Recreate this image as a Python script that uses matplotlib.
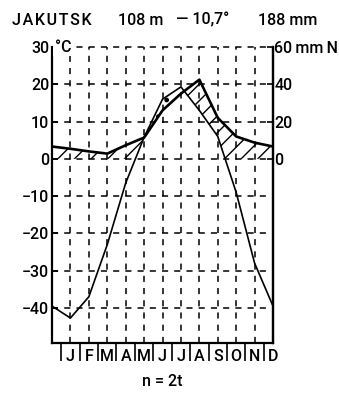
import numpy as np
import matplotlib.pyplot as plt
from matplotlib.ticker import FixedLocator

plt.rcParams['font.family'] = ['Roboto', 'DejaVu Sans']
plt.rcParams['font.weight'] = 'medium'
plt.rcParams['hatch.linewidth'] = 1.0

months = ['J', 'F', 'M', 'A', 'M', 'J', 'J', 'A', 'S', 'O', 'N', 'D']
# monthly mean temperature (°C) and precipitation (mm), Jakutsk
temp = [-42.7, -37.0, -23.0, -6.5, 5.8, 16.0, 19.3, 13.0, 6.0, -9.0, -28.0, -39.5]
prec = [5.4, 4.0, 2.8, 7.3, 11.4, 26.0, 35.0, 42.5, 22.0, 12.0, 8.7, 6.6]

# diagram starts with December on the left edge
x = np.arange(0, 13)
t = np.array([temp[-1]] + temp)
p = np.array([prec[-1]] + prec) / 2.0   # n = 2t

fig = plt.figure(figsize=(3.39, 3.93), dpi=100)
ax = fig.add_axes([0.1534, 0.1272, 0.652, 0.7532])
ax.set_xlim(0, 12)
ax.set_ylim(-49.4, 30)

# fills on a fine grid
xf = np.linspace(0, 12, 1201)
tf = np.interp(xf, x, t)
pf = np.interp(xf, x, p)
low = np.maximum(tf, 0)
ax.fill_between(xf, low, pf, where=pf > low, facecolor='none', edgecolor='black',
                hatch='//', linewidth=0)
ax.fill_between(xf, pf, tf, where=tf > pf, facecolor='none', edgecolor='black',
                hatch='.', linewidth=0)

ax.plot(x, t, color='black', lw=1.2)
ax.plot(x, p, color='black', lw=1.9)

# grid
for gx in range(1, 12):
    ax.axvline(gx, color='black', lw=1.1, ls=(0, (4, 4)), zorder=0)
for gy in range(-40, 31, 10):
    ax.axhline(gy, color='black', lw=1.1, ls=(0, (4, 4)), zorder=0, clip_on=False)

ax.spines['top'].set_visible(False)
for s in ['left', 'right', 'bottom']:
    ax.spines[s].set_linewidth(1.6)

fs = 11.5
ax.set_yticks(range(-40, 31, 10))
ax.set_yticklabels(['\u221240', '\u221230', '\u221220', '\u221210', '0', '10', '20', '30'])
ax.tick_params(axis='y', direction='in', length=4, width=1.2, labelsize=fs, pad=2)

ax.set_xticks(range(1, 13))
ax.set_xticklabels(months)
ax.xaxis.set_minor_locator(FixedLocator(np.arange(0.5, 12, 1)))
ax.tick_params(axis='x', which='major', length=0, labelsize=fs, pad=4)
ax.tick_params(axis='x', which='minor', direction='out', length=13, width=1.2)

sec = ax.secondary_yaxis('right', functions=(lambda v: v * 2, lambda v: v / 2))
sec.set_yticks([0, 20, 40, 60])
sec.set_yticklabels(['0', '20', '40', '60\u2009mm\u2009N'])
sec.tick_params(direction='in', length=4, width=1.2, labelsize=fs, pad=1)
sec.spines['right'].set_linewidth(1.6)

ax.text(0.15, 30, '°C', fontsize=fs, va='center', ha='left',
        bbox=dict(facecolor='white', edgecolor='none', pad=1))

fig.text(0.035, 0.949, '\u200a'.join('JAKUTSK'), fontsize=fs, va='center')
fig.text(0.348, 0.949, '108 m', fontsize=fs, va='center')
fig.text(0.52, 0.949, '\u2014 10,7°', fontsize=fs, va='center')
fig.text(0.761, 0.949, '188 mm', fontsize=fs, va='center')
fig.text(0.48, 0.028, 'n = 2t', fontsize=fs, va='center', ha='center')

fig.savefig('out.png', dpi=100)
